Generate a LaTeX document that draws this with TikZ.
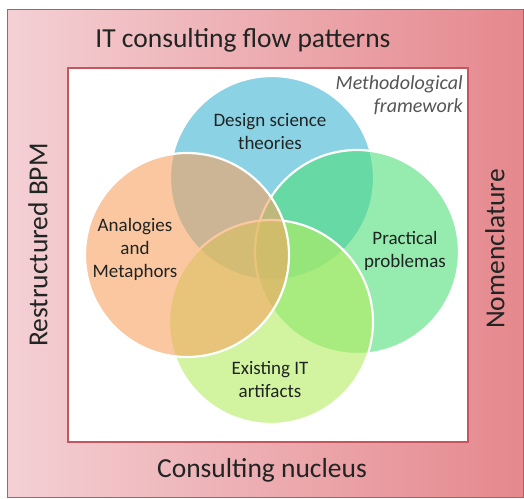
\documentclass[tikz,border=0pt]{standalone}
\usepackage{fontspec}
\setmainfont{Carlito}
\definecolor{bgL}{RGB}{244,208,212}
\definecolor{bgR}{RGB}{229,136,141}
\definecolor{frameR}{RGB}{196,86,96}
\definecolor{cBlue}{RGB}{63,180,213}
\definecolor{cGreen}{RGB}{80,222,122}
\definecolor{cOrange}{RGB}{247,163,97}
\definecolor{cLight}{RGB}{180,238,97}
\definecolor{txt}{RGB}{32,36,34}
\definecolor{gtxt}{RGB}{85,85,85}
\begin{document}
\begin{tikzpicture}[x=1pt,y=-1pt,
  venn/.style={circle, minimum size=204pt, inner sep=0pt, draw=white, line width=2.2pt, fill opacity=0.6},
  lbl/.style={text=txt, font=\fontsize{19}{23}\selectfont, align=center, inner sep=0pt},
  side/.style={text=txt, font=\fontsize{27.5}{30}\selectfont, inner sep=0pt}]
\useasboundingbox (0,0) rectangle (524,498);
\fill[white] (0,0) rectangle (524,498);
\node[draw=frameR, line width=1.2pt, left color=bgL, right color=bgR, minimum width=516pt, minimum height=488pt, inner sep=0pt, anchor=north west] (outer) at (7,9) {};
\node[draw=frameR, line width=2pt, fill=white, minimum width=400pt, minimum height=374pt, inner sep=0pt, anchor=north west] (inner) at (67,67) {};
\node[venn, fill=cBlue] (blue) at (272,178) {};
\node[venn, fill=cGreen] (green) at (357,252) {};
\node[venn, fill=cLight] (light) at (271,322) {};
\node[venn, fill=cOrange] (orange) at (187,255) {};
\node[lbl] (tblue) at (270,132) {Design science\\theories};
\node[lbl] (torange) at (135,249) {Analogies\\and\\Metaphors};
\node[lbl] (tgreen) at (405,251) {Practical\\problemas};
\node[lbl] (tlight) at (270,379) {Existing IT\\artifacts};
\node[text=gtxt, font=\fontsize{20}{23}\selectfont\itshape, align=right, inner sep=0pt, anchor=north east] (meth) at (463,75) {Methodological\\framework};
\node[side] (top) at (243,40) {IT consulting flow patterns};
\node[side] (bottom) at (262,470) {Consulting nucleus};
\node[side, rotate=90] (left) at (38,245) {Restructured BPM};
\node[side, rotate=90] (right) at (495,249) {Nomenclature};
\end{tikzpicture}
\end{document}
